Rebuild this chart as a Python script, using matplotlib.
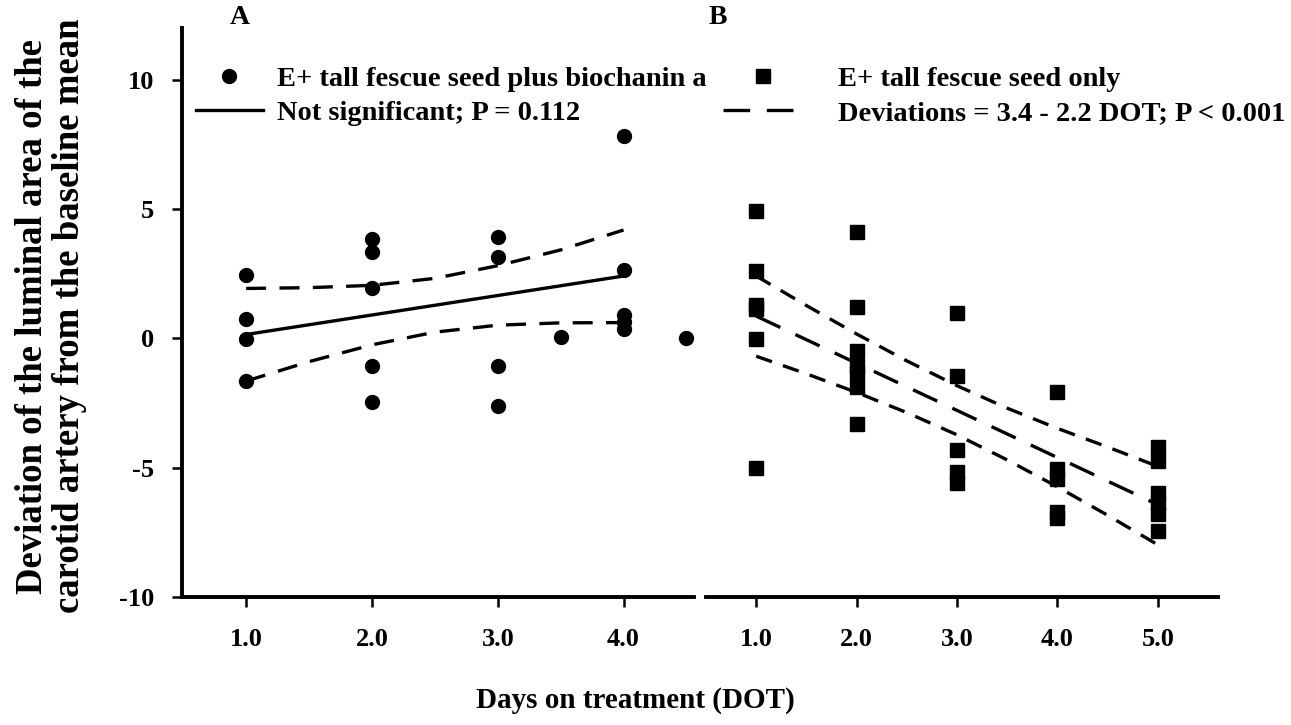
import matplotlib
matplotlib.use("Agg")
import matplotlib.pyplot as plt
from matplotlib.lines import Line2D

plt.rcParams['font.family'] = ['Liberation Serif', 'DejaVu Serif']
plt.rcParams['font.weight'] = 'bold'

# panel A: E+ tall fescue seed plus biochanin a
a_days = [1, 1, 1, 1,
          2, 2, 2, 2, 2,
          3, 3, 3, 3,
          3.5,
          4, 4, 4, 4, 4,
          4.5]
a_dev = [2.45, 0.74, -0.01, -1.65,
         3.85, 3.35, 1.93, -1.07, -2.47,
         3.9, 3.15, -1.07, -2.62,
         0.05,
         7.82, 2.64, 0.9, 0.62, 0.35,
         0.0]
a_fit_x = [1, 4]
a_fit_y = [0.15, 2.41]
a_ci_x = [1, 1.5, 2, 2.5, 3, 3.5, 4]
a_ci_hi = [1.93, 1.96, 2.05, 2.32, 2.81, 3.42, 4.19]
a_ci_lo = [-1.65, -0.90, -0.25, 0.24, 0.51, 0.60, 0.61]

# panel B: E+ tall fescue seed only
b_days = [1, 1, 1, 1, 1, 1,
          2, 2, 2, 2, 2, 2, 2,
          3, 3, 3, 3, 3,
          4, 4, 4, 4, 4,
          5, 5, 5, 5, 5, 5]
b_dev = [4.93, 2.61, 1.30, 1.14, -0.04, -5.01,
         4.12, 1.23, -0.50, -1.05, -1.35, -1.88, -3.33,
         0.97, -1.46, -4.30, -5.16, -5.58,
         -2.08, -5.04, -5.45, -6.70, -6.94,
         -4.19, -4.73, -5.97, -6.36, -6.80, -7.44]
b_fit_x = [1, 5]
b_fit_y = [0.86, -6.43]
b_ci_x = [1, 1.5, 2, 2.5, 3, 3.5, 4, 4.5, 5]
b_ci_hi = [2.41, 1.27, 0.17, -0.87, -1.83, -2.70, -3.48, -4.20, -4.95]
b_ci_lo = [-0.69, -1.37, -2.09, -2.87, -3.73, -4.70, -5.74, -6.84, -7.98]

a_ticks = [1, 2, 3, 4]
b_ticks = [1, 2, 3, 4, 5]
y_ticks = [-10, -5, 0, 5, 10]

W, H = 1291, 725
fig = plt.figure(figsize=(W / 100, H / 100), dpi=100)
axA = fig.add_axes([182 / W, 1 - 597 / H, (694 - 182) / W, (597 - 28) / H])
axB = fig.add_axes([706 / W, 1 - 597 / H, (1218 - 706) / W, (597 - 28) / H])

lw_sp = 2.8
for ax in (axA, axB):
    ax.set_ylim(-10, 12)
    for s in ('top', 'right'):
        ax.spines[s].set_visible(False)
    ax.spines['bottom'].set_linewidth(lw_sp)
    ax.spines['left'].set_linewidth(lw_sp)
    ax.tick_params(axis='x', direction='out', length=7, width=1.8, pad=15, labelsize=19)
    ax.tick_params(axis='y', direction='out', length=7, width=1.8, pad=13, labelsize=19)

axB.spines['left'].set_visible(False)
axB.tick_params(axis='y', left=False, labelleft=False)

axA.set_xlim(0.49, 4.56)
axA.set_xticks(a_ticks)
axA.set_xticklabels(['%.1f' % t for t in a_ticks])
axA.set_yticks(y_ticks)
axA.set_yticklabels(['%d' % t for t in y_ticks])

axB.set_xlim(0.5, 5.6)
axB.set_xticks(b_ticks)
axB.set_xticklabels(['%.1f' % t for t in b_ticks])

# panel A
axA.plot(a_days, a_dev, 'o', color='black', ms=10, clip_on=False)
axA.plot(a_fit_x, a_fit_y, '-', color='black', lw=2.4)
axA.plot(a_ci_x, a_ci_hi, color='black', lw=2.4, dashes=(6, 4))
axA.plot(a_ci_x, a_ci_lo, color='black', lw=2.4, dashes=(6, 4))

# panel B
axB.plot(b_days, b_dev, 's', color='black', ms=10, clip_on=False)
axB.plot(b_fit_x, b_fit_y, color='black', lw=2.4, dashes=(8, 5))
axB.plot(b_ci_x, b_ci_hi, color='black', lw=2.4, dashes=(5, 3.5))
axB.plot(b_ci_x, b_ci_lo, color='black', lw=2.4, dashes=(5, 3.5))

# legends
fs_leg = 20.5
hA = [Line2D([], [], marker='o', ls='none', color='black', ms=10),
      Line2D([], [], ls='-', color='black', lw=2.4)]
axA.legend(hA, ['E+ tall fescue seed plus biochanin a', 'Not significant; P = 0.112'],
           loc='upper left', bbox_to_anchor=(196 / W, 1 - 66 / H),
           bbox_transform=fig.transFigure, frameon=False, fontsize=fs_leg,
           handlelength=2.35, handletextpad=0.5, labelspacing=0.3, borderpad=0,
           borderaxespad=0)
hB = [Line2D([], [], marker='s', ls='none', color='black', ms=10),
      Line2D([], [], color='black', lw=2.4, dashes=(8, 5))]
axB.legend(hB, ['E+ tall fescue seed only', 'Deviations = 3.4 - 2.2 DOT; P < 0.001'],
           loc='upper left', bbox_to_anchor=(723 / W, 1 - 66 / H),
           bbox_transform=fig.transFigure, frameon=False, fontsize=fs_leg,
           handlelength=2.8, handletextpad=1.25, labelspacing=0.3, borderpad=0,
           borderaxespad=0)

fig.text(240 / W, 1 - 18 / H, 'A', fontsize=20, ha='center', va='center')
fig.text(718 / W, 1 - 18 / H, 'B', fontsize=20, ha='center', va='center')

fig.text(635 / W, 1 - 700 / H, 'Days on treatment (DOT)', fontsize=21, ha='center', va='center')
fig.text(51 / W, 1 - 316 / H,
         'Deviation of the luminal area of the\ncarotid artery from the baseline mean',
         fontsize=26.5, rotation=90, ha='center', va='center', multialignment='center',
         linespacing=1.08)

fig.savefig('out.png', dpi=100)
